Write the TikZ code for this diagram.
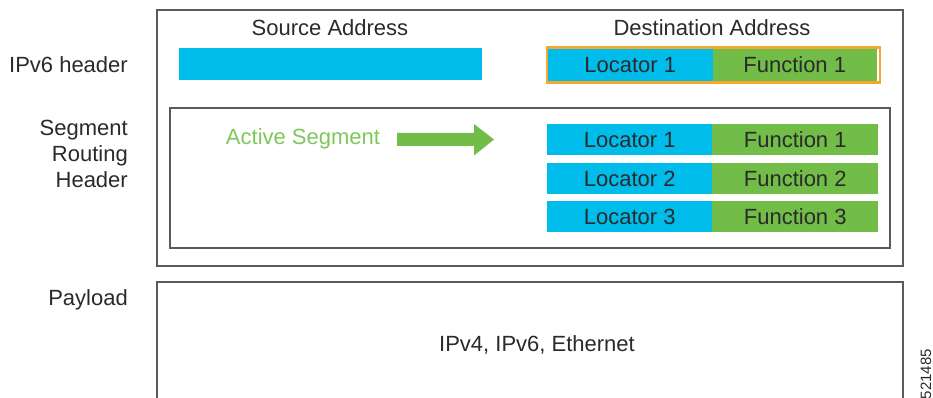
\documentclass[tikz,border=0pt]{standalone}
\usepackage{fontspec}
\setmainfont{Liberation Sans}
\definecolor{cyanbar}{HTML}{00BCEB}
\definecolor{greenbar}{HTML}{72BD48}
\definecolor{orangebd}{HTML}{F5A830}
\definecolor{boxgray}{HTML}{5A5A5A}
\definecolor{txt}{HTML}{2A2A2A}
\definecolor{greentxt}{HTML}{7DC75B}
\begin{document}
\begin{tikzpicture}[x=1pt,y=-1pt,
  lbl/.style={font=\fontsize{22}{26}\selectfont, text=txt, inner sep=0},
  frame/.style={draw=boxgray, line width=1.3pt},
  cell/.style={minimum height=31pt, inner sep=0, text=txt, font=\fontsize{22}{26}\selectfont, anchor=north west},
  loc/.style={cell, fill=cyanbar, minimum width=165pt},
  fun/.style={cell, fill=greenbar, minimum width=166pt}]
\useasboundingbox (0,0) rectangle (933,398);
% outer frames
\draw[frame] (157,10) rectangle (903,266);
\draw[frame] (170,108) rectangle (890,248);
\draw[frame] (157,399) -- (157,282) -- (903,282) -- (903,399);
% left labels
\node[lbl, anchor=east] (ipv6) at (128,65) {IPv6 header};
\node[lbl, anchor=east, align=right, font=\fontsize{22}{26}\selectfont] (srh) at (128,154) {Segment\\Routing\\Header};
\node[lbl, anchor=east] (payload) at (128,300) {Payload};
% column headings
\node[lbl] (src) at (330,28) {Source Address};
\node[lbl] (dst) at (712,28) {Destination Address};
% source address bar
\node[fill=cyanbar, minimum width=303pt, minimum height=32pt, inner sep=0, anchor=north west] (srcbar) at (179,48) {};
% destination address
\node[draw=orangebd, line width=2.2pt, minimum width=333pt, minimum height=35pt, inner sep=0, anchor=north west] (dstbox) at (545.5,46.5) {};
\node[loc, minimum height=32pt] (dl) at (547.5,48.5) {Locator 1};
\node[fun, minimum height=32pt, minimum width=164pt] (df) at (712.5,48.5) {Function 1};
% segment list
\node[loc] (l1) at (547,124) {Locator 1};
\node[fun] (f1) at (712,124) {Function 1};
\node[loc] (l2) at (547,163) {Locator 2};
\node[fun] (f2) at (712,163) {Function 2};
\node[loc] (l3) at (547,201) {Locator 3};
\node[fun] (f3) at (712,201) {Function 3};
% active segment
\node[lbl, text=greentxt] (act) at (303,139) {Active Segment};
\coordinate (arrS) at (397,139.5);
\fill[greenbar] (arrS) ++(0,-6.5) -- ++(77,0) -- ++(0,-9) -- (494,139.5) -- (474,155.5) -- ++(0,-9.5) -- (397,146) -- cycle;
% payload content
\node[lbl] (pl) at (537,345) {IPv4, IPv6, Ethernet};
\node[lbl, rotate=90, font=\fontsize{15}{17}\selectfont] (num) at (926,374) {521485};
\end{tikzpicture}
\end{document}
